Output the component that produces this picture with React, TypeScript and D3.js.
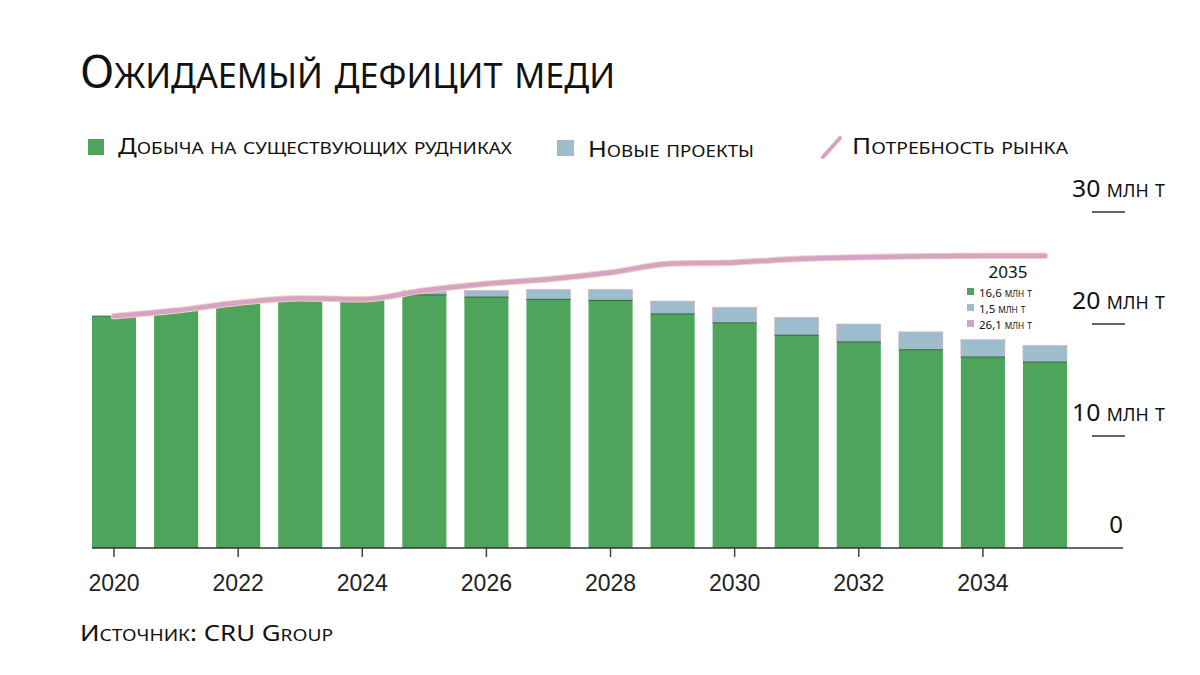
import React from 'react';
import * as d3 from 'd3';

const years = [2020, 2021, 2022, 2023, 2024, 2025, 2026, 2027, 2028, 2029, 2030, 2031, 2032, 2033, 2034, 2035];
const existingMines = [20.7, 21.2, 21.9, 22.3, 22.2, 22.6, 22.4, 22.2, 22.1, 20.9, 20.1, 19.0, 18.4, 17.7, 17.05, 16.6];
const newProjects = [0, 0, 0, 0, 0, 0.4, 0.6, 0.9, 1.0, 1.15, 1.4, 1.6, 1.6, 1.6, 1.55, 1.5];
const marketDemand = [20.7, 21.2, 21.9, 22.3, 22.2, 23.0, 23.6, 24.0, 24.6, 25.4, 25.5, 25.8, 25.95, 26.05, 26.1, 26.1];
const yTicks = [0, 10, 20, 30];
const xTickYears = [2020, 2022, 2024, 2026, 2028, 2030, 2032, 2034];

const GREEN = '#4fa45b';
const BLUE = '#9dbdcc';
const PINK = '#d7a2c3';
const DISPLAY_FONT = "'Noto Sans', 'Open Sans', sans-serif";
const NUM_FONT = "'Liberation Sans', Arial, sans-serif";

// Manual small caps: lowercase letters become uppercase at reduced size
function smallCaps(text: string, size: number, ratio = 0.74) {
  const runs: { s: string; small: boolean }[] = [];
  for (const ch of text) {
    const isLower = ch !== ch.toUpperCase();
    const last = runs[runs.length - 1];
    if (last && last.small === isLower) last.s += isLower ? ch.toUpperCase() : ch;
    else runs.push({ s: isLower ? ch.toUpperCase() : ch, small: isLower });
  }
  return runs.map((r, i) => (
    <tspan key={i} fontSize={r.small ? size * ratio : size}>
      {r.s}
    </tspan>
  ));
}

export default function App() {
  const x = d3.scaleBand<number>().domain(years).range([92, 1067]).paddingInner(0.29).paddingOuter(0);
  const y = d3.scaleLinear().domain([0, 30]).range([548, 212]);
  const bw = x.bandwidth();
  const cx = (yr: number) => (x(yr) as number) + bw / 2;

  const line = d3
    .line<number>()
    .x((_, i) => cx(years[i]))
    .y((d) => y(d))
    .curve(d3.curveMonotoneX);
  const linePath = line(marketDemand) || '';

  return (
    <svg width={1200} height={675} style={{ position: 'absolute', left: 0, top: 0, background: '#fff' }}>
      {/* Title */}
      <text x={80} y={88} fontFamily={DISPLAY_FONT} fill="#111" textLength={535} lengthAdjust="spacingAndGlyphs">
        {smallCaps('Ожидаемый дефицит меди', 46, 0.76)}
      </text>

      {/* Legend */}
      <rect x={88} y={139} width={16} height={16} fill={GREEN} />
      <text x={118} y={154} fontFamily={DISPLAY_FONT} fill="#111" textLength={394} lengthAdjust="spacingAndGlyphs">
        {smallCaps('Добыча на существующих рудниках', 22)}
      </text>
      <rect x={557} y={140} width={17} height={16} fill={BLUE} />
      <text x={588} y={157} fontFamily={DISPLAY_FONT} fill="#111" textLength={166} lengthAdjust="spacingAndGlyphs">
        {smallCaps('Новые проекты', 22)}
      </text>
      <line x1={823} y1={157} x2={840} y2={138} stroke={PINK} strokeWidth={4} strokeLinecap="round" />
      <text x={852} y={154} fontFamily={DISPLAY_FONT} fill="#111" textLength={216} lengthAdjust="spacingAndGlyphs">
        {smallCaps('Потребность рынка', 22)}
      </text>

      {/* Bars */}
      {years.map((yr, i) => {
        const g = existingMines[i];
        const b = newProjects[i];
        return (
          <g key={yr}>
            {b > 0 && (
              <rect
                x={x(yr)}
                y={y(g + b)}
                width={bw}
                height={y(g) - y(g + b)}
                fill={BLUE}
                stroke="#d4b2c8"
                strokeWidth={0.6}
              />
            )}
            <rect x={x(yr)} y={y(g)} width={bw} height={y(0) - y(g)} fill={GREEN} />
            <line x1={x(yr)} x2={(x(yr) as number) + bw} y1={y(g)} y2={y(g)} stroke="#35663b" strokeWidth={1} />
          </g>
        );
      })}

      {/* Demand line */}
      <path d={linePath} fill="none" stroke="#f1d2c4" strokeWidth={6.5} strokeLinejoin="round" strokeLinecap="round" />
      <path d={linePath} fill="none" stroke={PINK} strokeWidth={4.5} strokeLinejoin="round" strokeLinecap="round" />

      {/* Baseline */}
      <line x1={92} x2={1123} y1={y(0)} y2={y(0)} stroke="#333" strokeWidth={1.5} />

      {/* X axis ticks & labels */}
      {xTickYears.map((yr) => (
        <g key={yr}>
          <line x1={cx(yr)} x2={cx(yr)} y1={y(0)} y2={y(0) + 9} stroke="#444" strokeWidth={1.5} />
          <text x={cx(yr)} y={591} textAnchor="middle" fontFamily={NUM_FONT} fontSize={23} fill="#222">
            {yr}
          </text>
        </g>
      ))}

      {/* Y axis (right) */}
      {yTicks.map((t) => (
        <g key={t}>
          {t > 0 && <line x1={1092} x2={1125} y1={y(t)} y2={y(t)} stroke="#333" strokeWidth={1.5} />}
          {t > 0 ? (
            <text x={1072} y={y(t) - 15} fontFamily={DISPLAY_FONT} fill="#111" textLength={93} lengthAdjust="spacingAndGlyphs">
              <tspan fontSize={24}>{t}</tspan>
              {smallCaps(' млн т', 24, 0.72)}
            </text>
          ) : (
            <text x={1116} y={y(t) - 15} textAnchor="middle" fontFamily={DISPLAY_FONT} fontSize={24} fill="#111">
              {t}
            </text>
          )}
        </g>
      ))}

      {/* 2035 annotation */}
      <text x={1008} y={278} textAnchor="middle" fontFamily={DISPLAY_FONT} fontSize={17} fill="#111">
        {years[years.length - 1]}
      </text>
      {[
        { c: GREEN, v: existingMines[existingMines.length - 1] },
        { c: BLUE, v: newProjects[newProjects.length - 1] },
        { c: PINK, v: marketDemand[marketDemand.length - 1] },
      ].map((d, i) => (
        <g key={i}>
          <rect x={967} y={288 + i * 16} width={7} height={7} fill={d.c} />
          <text x={979} y={296.5 + i * 16} fontFamily={DISPLAY_FONT} fill="#111">
            <tspan fontSize={11.5}>{d.v.toFixed(1).replace('.', ',')}</tspan>
            {smallCaps(' млн т', 11.5, 0.72)}
          </text>
        </g>
      ))}

      {/* Source */}
      <text x={80} y={641} fontFamily={DISPLAY_FONT} fill="#111" textLength={253} lengthAdjust="spacingAndGlyphs">
        {smallCaps('Источник: CRU Group', 22)}
      </text>
    </svg>
  );
}
